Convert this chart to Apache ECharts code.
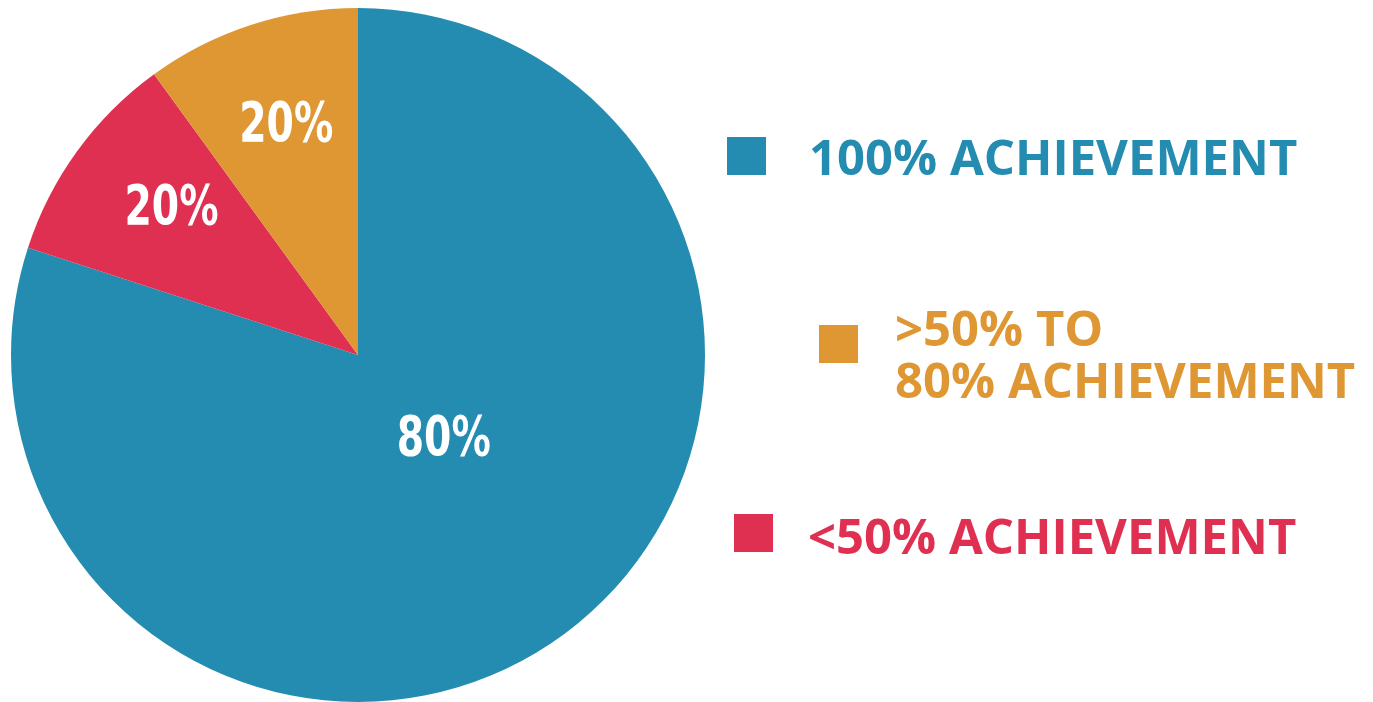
<!DOCTYPE html>
<html>
<head>
<meta charset="utf-8">
<script src="https://cdn.jsdelivr.net/npm/echarts@6/dist/echarts.min.js"></script>
<style>
html,body{margin:0;padding:0;background:#fff;}
#chart{width:1373px;height:702px;}
</style>
</head>
<body>
<div id="chart"></div>
<script>
// Data
var categories = ['100% ACHIEVEMENT', '<50% ACHIEVEMENT', '>50% TO\n80% ACHIEVEMENT'];
var values = [80, 10, 10];
var sliceLabels = ['80%', '20%', '20%'];
var colors = ['#238cb0', '#e03052', '#de9733'];

var labelShift = [[-23, -57], [-56, -42], [-22, -61]];

var chart = echarts.init(document.getElementById('chart'));
// square icon (39x38) placed at the top of a taller item box so the text sits lower
function iconPath(h) {
  return 'path://M0,0L39,0L39,38L0,38Z M0,' + h + 'L1,' + h;
}
function legendFor(i, left, top, h, padLeft) {
  return {
    data: [categories[i]],
    left: left, top: top,
    orient: 'vertical',
    selectedMode: false,
    icon: iconPath(h),
    itemWidth: 39, itemHeight: h,
    itemStyle: { borderWidth: 0 },
    padding: 0,
    textStyle: {
      color: colors[i],
      fontFamily: 'Open Sans',
      fontWeight: 'bold',
      fontSize: 49,
      lineHeight: 52,
      padding: [0, 0, 0, padLeft]
    }
  };
}
chart.setOption({
  backgroundColor: '#ffffff',
  animation: false,
  legend: [
    legendFor(0, 727, 135, 48, 38),
    legendFor(2, 819, 306, 66, 32),
    legendFor(1, 734, 514, 52, 30)
  ],
  series: [{
    type: 'pie',
    center: [358, 355],
    radius: 347,
    startAngle: 90,
    clockwise: true,
    label: {
      show: true,
      position: 'inside',
      color: '#ffffff',
      fontFamily: '"DejaVu Sans Condensed", "DejaVu Sans", sans-serif',
      fontWeight: 'bold',
      fontSize: 56,
      formatter: function (p) { return sliceLabels[p.dataIndex]; }
    },
    labelLine: { show: false },
    labelLayout: function (p) {
      return { dx: labelShift[p.dataIndex][0], dy: labelShift[p.dataIndex][1] };
    },
    itemStyle: { borderWidth: 0 },
    emphasis: { disabled: true },
    data: categories.map(function (c, i) {
      return { name: c, value: values[i], itemStyle: { color: colors[i] } };
    })
  }]
});
// narrow the slice labels horizontally (condensed look)
try {
  var sData = chart.getModel().getSeriesByIndex(0).getData();
  sData.each(function (idx) {
    var el = sData.getItemGraphicEl(idx);
    var t = el && el.getTextContent && el.getTextContent();
    if (t) { t.scaleX = 0.78; t.markRedraw(); }
  });
  chart.getZr().refreshImmediately();
} catch (e) {}
</script>
</body>
</html>
